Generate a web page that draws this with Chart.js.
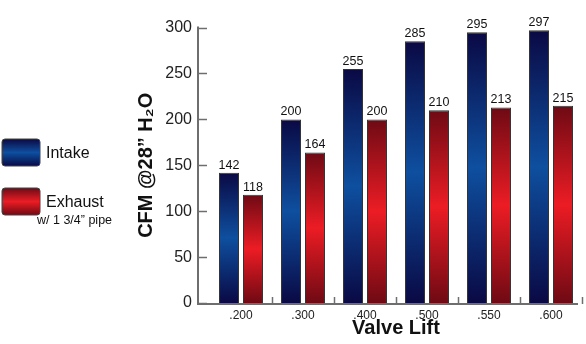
<!DOCTYPE html>
<html>
<head>
<meta charset="utf-8">
<script src="https://cdn.jsdelivr.net/npm/chart.js@4/dist/chart.umd.min.js"></script>
<style>
html,body{margin:0;padding:0;background:#fff;}
#wrap{position:relative;width:586px;height:344px;}
</style>
</head>
<body>
<div id="wrap"><canvas id="c" width="586" height="344"></canvas></div>
<script>
const categories = ['.200', '.300', '.400', '.500', '.550', '.600'];
const intakeValues = [142, 200, 255, 285, 295, 297];
const exhaustValues = [118, 164, 200, 210, 213, 215];
const yTicks = [0, 50, 100, 150, 200, 250, 300];
const seriesNames = ['Intake', 'Exhaust'];
const exhaustNote = 'w/ 1 3/4\u201D pipe';
const yTitle = 'CFM @28\u201D H\u2082O';
const xTitle = 'Valve Lift';

const FONT = '"Liberation Sans", Arial, sans-serif';
const palettes = {
  Intake: ['#0a0944', '#0e4f9f', '#0a0944'],
  Exhaust: ['#6e0a14', '#ec1c24', '#6e0a14']
};

function barGradient(ctx, top, bottom, pal) {
  const g = ctx.createLinearGradient(0, top, 0, bottom);
  g.addColorStop(0, pal[0]);
  g.addColorStop(0.5, pal[1]);
  g.addColorStop(1, pal[2]);
  return g;
}

function scriptedFill(name) {
  return function (context) {
    const chart = context.chart;
    const ys = chart.scales && chart.scales.y;
    if (!chart.chartArea || !ys || context.type !== 'data') return palettes[name][1];
    const v = context.raw;
    const top = ys.getPixelForValue(v);
    const bottom = ys.getPixelForValue(0);
    return barGradient(chart.ctx, top, bottom, palettes[name]);
  };
}

const decorPlugin = {
  id: 'decor',
  afterDatasetsDraw(chart) {
    const ctx = chart.ctx;
    const ys = chart.scales.y, xs = chart.scales.x;
    const area = chart.chartArea;
    const axisX = area.left - 12;
    const y0 = ys.getPixelForValue(0);
    ctx.save();
    ctx.strokeStyle = '#6e6e6e';
    ctx.lineWidth = 2;
    ctx.beginPath();
    ctx.moveTo(axisX, ys.getPixelForValue(yTicks[yTicks.length - 1]) - 1);
    ctx.lineTo(axisX, y0 + 1);
    ctx.lineTo(area.right - 4, y0 + 1);
    ctx.stroke();
    ctx.lineWidth = 1.5;
    yTicks.forEach(t => {
      const py = Math.round(ys.getPixelForValue(t)) + 0.5;
      ctx.beginPath();
      ctx.moveTo(axisX, py);
      ctx.lineTo(axisX + 9, py);
      ctx.stroke();
    });
    const n = categories.length;
    const step = xs.getPixelForValue(1) - xs.getPixelForValue(0);
    for (let i = 0; i < n; i++) {
      const bx = Math.round(xs.getPixelForValue(i) + step / 2) + 0.5;
      ctx.beginPath();
      ctx.moveTo(bx, y0 - 6);
      ctx.lineTo(bx, y0 + 1);
      ctx.stroke();
    }
    ctx.fillStyle = '#111';
    ctx.font = '12.5px ' + FONT;
    ctx.textAlign = 'center';
    ctx.textBaseline = 'alphabetic';
    chart.data.datasets.forEach((ds, di) => {
      const meta = chart.getDatasetMeta(di);
      meta.data.forEach((bar, i) => {
        ctx.fillText(String(ds.data[i]), bar.x, bar.y - 4);
      });
    });
    const items = [
      { name: seriesNames[0], y: 139 },
      { name: seriesNames[1], y: 188 }
    ];
    items.forEach(it => {
      const x = 2, w = 38, h = 27;
      ctx.fillStyle = barGradient(ctx, it.y, it.y + h, palettes[it.name]);
      ctx.beginPath();
      if (ctx.roundRect) ctx.roundRect(x, it.y, w, h, 3); else ctx.rect(x, it.y, w, h);
      ctx.fill();
      ctx.strokeStyle = '#444';
      ctx.lineWidth = 1;
      ctx.stroke();
      ctx.fillStyle = '#111';
      ctx.font = '16px ' + FONT;
      ctx.textAlign = 'left';
      ctx.textBaseline = 'middle';
      ctx.fillText(it.name, 46, it.y + h / 2 + 1);
    });
    ctx.font = '12.5px ' + FONT;
    ctx.textAlign = 'left';
    ctx.textBaseline = 'middle';
    ctx.fillText(exhaustNote, 37, 221);
    ctx.restore();
  }
};

new Chart(document.getElementById('c'), {
  type: 'bar',
  data: {
    labels: categories,
    datasets: [
      {
        label: seriesNames[0],
        data: intakeValues,
        backgroundColor: scriptedFill('Intake'),
        borderColor: '#333',
        borderWidth: 1,
        categoryPercentage: 0.774,
        barPercentage: 0.833
      },
      {
        label: seriesNames[1],
        data: exhaustValues,
        backgroundColor: scriptedFill('Exhaust'),
        borderColor: '#333',
        borderWidth: 1,
        categoryPercentage: 0.774,
        barPercentage: 0.833
      }
    ]
  },
  options: {
    responsive: false,
    animation: false,
    devicePixelRatio: 1,
    layout: { padding: { left: 130, right: 4, top: 24, bottom: 0 } },
    plugins: { legend: { display: false }, tooltip: { enabled: false } },
    scales: {
      x: {
        grid: { display: false, drawTicks: false },
        border: { display: false },
        ticks: { color: '#222', font: { family: FONT, size: 12 }, padding: 5, maxRotation: 0 },
        title: { display: true, text: xTitle, color: '#111', font: { family: FONT, size: 20, weight: 'bold' }, padding: { top: 0, bottom: 4 } },
        afterFit(scale) { scale.height = 41; }
      },
      y: {
        min: 0, max: 300,
        afterBuildTicks(scale) { scale.ticks = yTicks.map(v => ({ value: v })); },
        grid: { display: false, drawTicks: false },
        border: { display: false },
        ticks: { color: '#222', font: { family: FONT, size: 16 }, padding: 18 },
        title: { display: true, text: yTitle, color: '#111', font: { family: FONT, size: 20, weight: 'bold' }, padding: { top: 4, bottom: 0 } },
        afterFit(scale) { scale.width = 80; }
      }
    }
  },
  plugins: [decorPlugin]
});
</script>
</body>
</html>
